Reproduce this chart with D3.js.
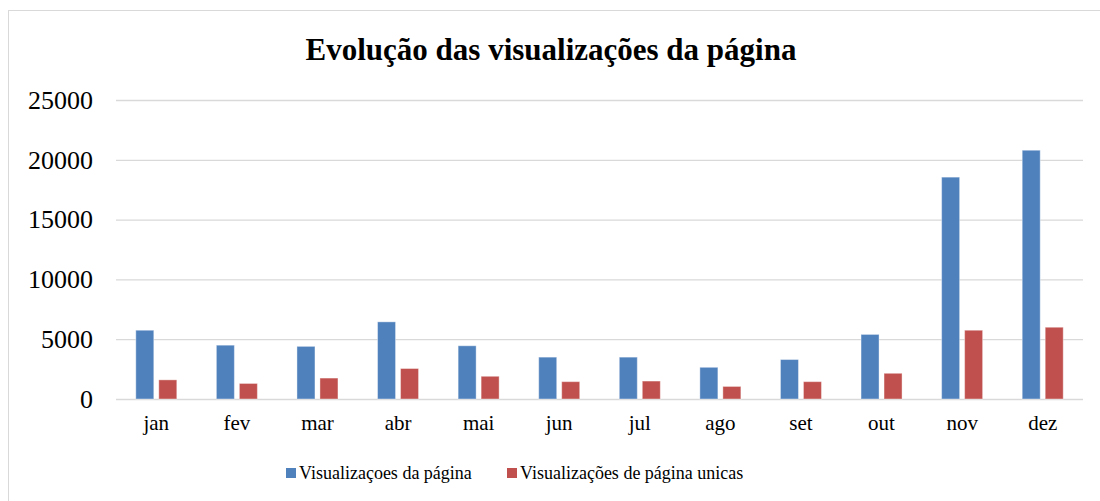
<!DOCTYPE html>
<html lang="pt">
<head>
<meta charset="utf-8">
<title>Evolução das visualizações da página</title>
<script src="https://cdn.jsdelivr.net/npm/d3@7"></script>
<style>
  body { margin: 0; background: #fff; }
  svg text { font-family: "Liberation Serif", "Times New Roman", serif; }
  .grid line { stroke: #d9d9d9; stroke-width: 1.3; }
  .grid path { display: none; }
  .yaxis path, .yaxis line, .xaxis path, .xaxis line { display: none; }
</style>
</head>
<body>
<script>
// data
var months = ["jan", "fev", "mar", "abr", "mai", "jun", "jul", "ago", "set", "out", "nov", "dez"];
var seriesNames = ["Visualizaçoes da página", "Visualizações de página unicas"];
var pageViews = [5750, 4500, 4400, 6450, 4450, 3500, 3500, 2650, 3300, 5400, 18550, 20800];
var uniqueViews = [1600, 1300, 1750, 2550, 1900, 1450, 1500, 1050, 1450, 2150, 5750, 6000];
var yTicks = [0, 5000, 10000, 15000, 20000, 25000];
var colors = ["#4f81bd", "#c0504d"];

var width = 1100, height = 501;
var margin = {top: 100, right: 17, bottom: 102, left: 116};

var svg = d3.select("body").append("svg")
    .attr("width", width)
    .attr("height", height);

// chart area border (top and left visible)
svg.append("rect")
    .attr("x", 8.5).attr("y", 10.5)
    .attr("width", 1200).attr("height", 600)
    .attr("fill", "none")
    .attr("stroke", "#d9d9d9")
    .attr("stroke-width", 1);

svg.append("text")
    .attr("x", 551).attr("y", 60)
    .attr("text-anchor", "middle")
    .attr("font-size", "31px")
    .attr("font-weight", "bold")
    .text("Evolução das visualizações da página");

var y = d3.scaleLinear()
    .domain([0, 25000])
    .range([height - margin.bottom, margin.top]);

var x0 = d3.scaleBand()
    .domain(months)
    .range([margin.left, width - margin.right])
    .paddingInner(0);

var bw = x0.bandwidth();
var x1 = d3.scaleBand()
    .domain([0, 1])
    .range([bw / 2 - 20.5, bw / 2 + 20.5])
    .paddingInner(0.217);

// gridlines
svg.append("g")
    .attr("class", "grid")
    .attr("transform", "translate(" + margin.left + ",0)")
    .call(d3.axisLeft(y).tickValues(yTicks).tickSize(-(width - margin.left - margin.right)).tickFormat(""));

// y axis labels
var yAxis = svg.append("g")
    .attr("class", "yaxis")
    .attr("transform", "translate(93,0)")
    .call(d3.axisLeft(y).tickValues(yTicks).tickSize(0).tickPadding(0).tickFormat(d3.format("d")));
yAxis.selectAll("text")
    .attr("font-size", "26px")
    .attr("fill", "#000");

// x axis labels
var xAxis = svg.append("g")
    .attr("class", "xaxis")
    .attr("transform", "translate(0," + (height - margin.bottom) + ")")
    .call(d3.axisBottom(x0).tickSize(0).tickPadding(16));
xAxis.selectAll("text")
    .attr("font-size", "21px")
    .attr("fill", "#000");

var rows = months.map(function(m, i) { return {month: m, values: [pageViews[i], uniqueViews[i]]}; });

var groups = svg.append("g").selectAll("g")
    .data(rows)
    .enter().append("g")
    .attr("transform", function(d) { return "translate(" + x0(d.month) + ",0)"; });

groups.selectAll("rect")
    .data(function(d) { return d.values.map(function(v, j) { return {j: j, v: v}; }); })
    .enter().append("rect")
    .attr("x", function(d) { return x1(d.j); })
    .attr("width", x1.bandwidth())
    .attr("y", function(d) { return y(d.v); })
    .attr("height", function(d) { return y(0) - y(d.v); })
    .attr("fill", function(d) { return colors[d.j]; })
    .attr("stroke", "#ffffff")
    .attr("stroke-opacity", 0.4)
    .attr("stroke-width", 1);

// legend
var legendX = [286, 507];
var legend = svg.append("g").selectAll("g")
    .data(seriesNames)
    .enter().append("g")
    .attr("transform", function(d, i) { return "translate(" + legendX[i] + ",468)"; });
legend.append("rect")
    .attr("width", 10).attr("height", 10)
    .attr("fill", function(d, i) { return colors[i]; });
legend.append("text")
    .attr("x", 13).attr("y", 11)
    .attr("font-size", "18px")
    .attr("fill", "#000")
    .text(function(d) { return d; });
</script>
</body>
</html>
